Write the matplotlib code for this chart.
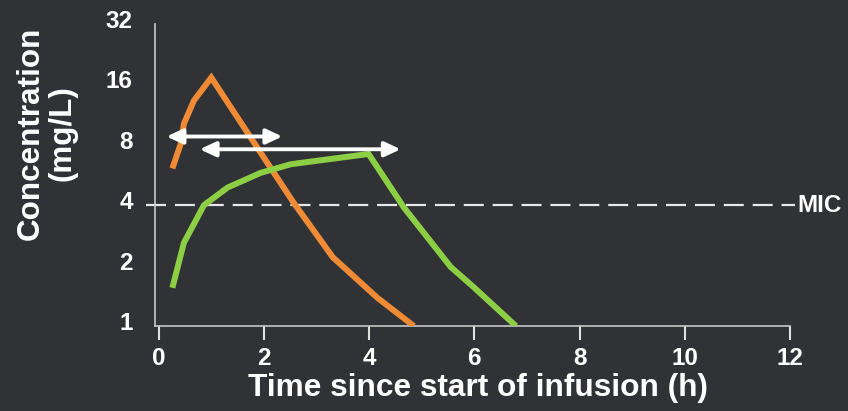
import matplotlib
matplotlib.use("Agg")
import matplotlib.pyplot as plt
from matplotlib.transforms import ScaledTranslation

# ---- data ----
orange_t = [0.26, 0.42, 0.48, 0.67, 1.0, 2.0, 2.57, 3.31, 4.16, 4.85]
orange_c = [6.1, 8.1, 10.2, 13.3, 17.3, 6.9, 4.1, 2.2, 1.38, 1.0]
green_t = [0.26, 0.48, 0.86, 1.31, 1.94, 2.51, 3.99, 4.66, 5.55, 5.99, 6.79]
green_c = [1.55, 2.6, 4.0, 4.9, 5.8, 6.4, 7.2, 3.9, 1.97, 1.56, 1.0]
mic_value = 4
arrow1_x = [0.15, 2.35]
arrow1_y = 8.8
arrow2_x = [0.78, 4.6]
arrow2_y = 7.6
x_ticks = [0, 2, 4, 6, 8, 10, 12]
y_ticks = [1, 2, 4, 8, 16, 32]
y_ticklabels = ["1", "2", "4", "8", "16", "32"]

BG = "#313236"
FG = "#ffffff"
plt.rcParams['font.family'] = ['Liberation Sans', 'DejaVu Sans']
plt.rcParams['font.weight'] = 'bold'

fig = plt.figure(figsize=(8.48, 4.11), dpi=100, facecolor=BG)
ax = fig.add_axes([155/848, 1-326/411, (790-155)/848, (326-24)/411])
ax.set_facecolor(BG)

ax.set_yscale('log', base=2)
ax.set_xlim(-0.07, 12)
ax.set_ylim(1, 32)

ax.plot(orange_t, orange_c, color="#f08b35", lw=4.3, solid_joinstyle='miter', solid_capstyle='butt', zorder=3)
ax.plot(green_t, green_c, color="#8ccf45", lw=4.3, solid_joinstyle='miter', solid_capstyle='butt', zorder=3)

ax.plot([-0.25, 12.1], [mic_value, mic_value], color="#e8e8e8", lw=1.6,
        dashes=(9, 4), clip_on=False, zorder=2)
ax.text(12.14, mic_value, "MIC", color=FG, fontsize=17.5, fontweight='bold',
        va='center', ha='left')

for xs, yv in [(arrow1_x, arrow1_y), (arrow2_x, arrow2_y)]:
    ax.annotate("", xy=(xs[1], yv), xytext=(xs[0], yv),
                arrowprops=dict(arrowstyle='<|-|>,head_length=0.6,head_width=0.28',
                                color=FG, lw=2.8, shrinkA=0, shrinkB=0,
                                mutation_scale=16), zorder=4)

for s in ['top', 'right']:
    ax.spines[s].set_visible(False)
for s in ['left', 'bottom']:
    ax.spines[s].set_color("#c8c8c8")
    ax.spines[s].set_linewidth(1.2)

ax.yaxis.set_minor_locator(matplotlib.ticker.NullLocator())
ax.tick_params(axis='x', direction='out', length=10, width=1.5, color="#e0e0e0",
               labelcolor=FG, labelsize=17.5, pad=5)
ax.tick_params(axis='y', length=0, labelcolor=FG, labelsize=17.5, pad=16)
ax.set_xticks(x_ticks)
ax.set_xticklabels([str(v) for v in x_ticks], fontweight='bold', fontsize=17.5, color=FG)
ax.set_yticks(y_ticks)
ax.set_yticklabels(y_ticklabels, fontweight='bold', fontsize=17.5, color=FG)
off = ScaledTranslation(0, 5/100, fig.dpi_scale_trans)
for lab in ax.get_yticklabels():
    lab.set_transform(lab.get_transform() + off)

fig.text(478/848, 1-388/411, "Time since start of infusion (h)", color=FG,
         fontsize=22.8, fontweight='bold', ha='center', va='center')
fig.text(47/848, 1-133/411, "Concentration\n(mg/L)", color=FG,
         fontsize=22.6, fontweight='bold', ha='center', va='center',
         rotation=90, linespacing=1.08)

fig.savefig("out.png", dpi=100, facecolor=BG)
